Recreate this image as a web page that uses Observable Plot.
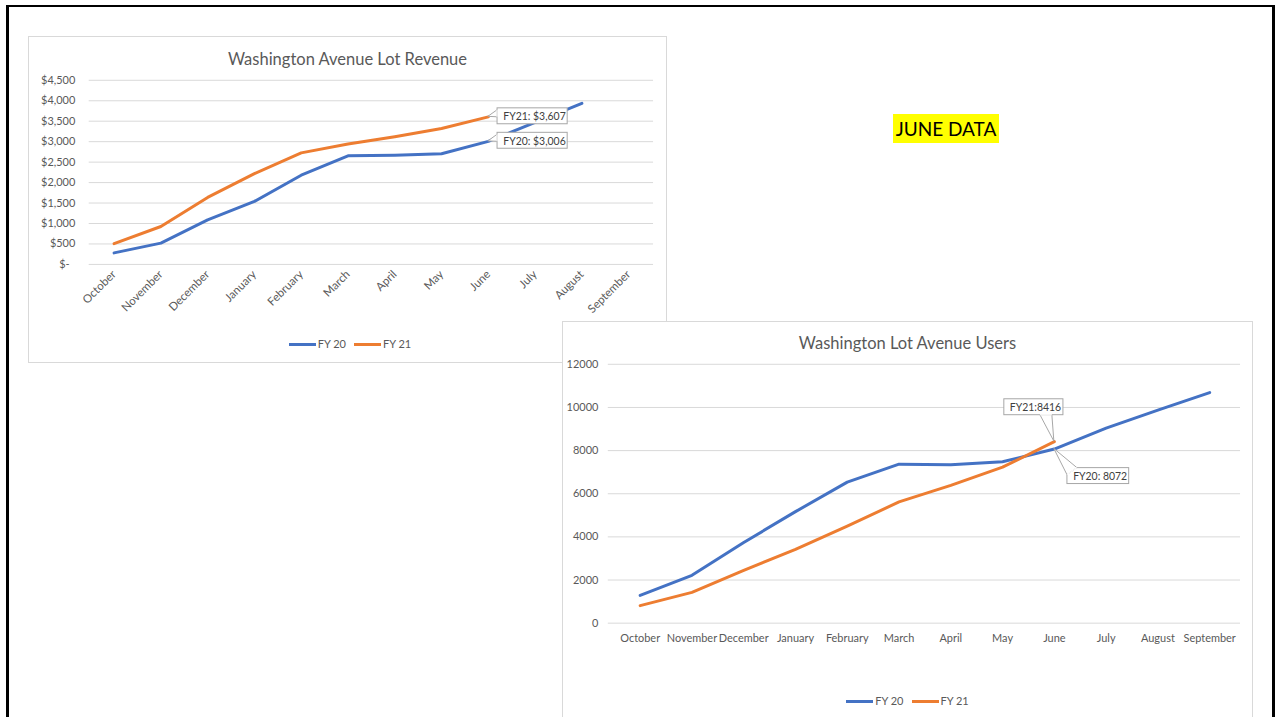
<!DOCTYPE html>
<html>
<head>
<meta charset="utf-8">
<script src="https://cdn.jsdelivr.net/npm/d3@7"></script>
<script src="https://cdn.jsdelivr.net/npm/@observablehq/plot@0.6"></script>
<style>
  html, body { margin: 0; padding: 0; }
  body { width: 1275px; height: 717px; overflow: hidden; position: relative; background: #fff;
         font-family: Lato, "Liberation Sans", sans-serif; }
  .slide { position: absolute; left: 6px; top: 5px; width: 1269px; height: 800px;
           border: 3px solid #000; border-top-width: 2px; box-sizing: border-box; }
  .box { position: absolute; background: #fff; border: 1px solid #d9d9d9; box-sizing: border-box; overflow: hidden; }
  .box svg { position: absolute; left: -1px; top: -1px; }
  .title { position: absolute; left: 0; right: 0; text-align: center; color: #595959; font-size: 16.5px; line-height: 20px; }
  .legend { position: absolute; left: 0; right: 0; display: flex; justify-content: center; gap: 8px;
            font-size: 11px; line-height: 14px; color: #595959; }
  .legend span.item { display: inline-flex; align-items: center; }
  .sw { display: inline-block; width: 27px; height: 3px; margin-right: 2px; }
  .june { position: absolute; left: 893px; top: 114px; width: 106px; height: 29px; line-height: 29px;
          background: #ffff00; color: #000; font-size: 19px; text-align: center; }
</style>
</head>
<body>
<div class="slide"></div>
<div class="june">JUNE DATA</div>
<div class="box" id="c1" style="left:28px; top:36px; width:639px; height:327px;">
  <div class="title" style="top:12px;">Washington Avenue Lot Revenue</div>
  <div class="legend" id="leg1" style="top:300px; padding-left:5px;"></div>
</div>
<div class="box" id="c2" style="left:562px; top:321px; width:691px; height:400px;">
  <div class="title" style="top:11px;">Washington Lot Avenue Users</div>
  <div class="legend" id="leg2" style="top:372px;"></div>
</div>
<script>
const months = ["October","November","December","January","February","March","April","May","June","July","August","September"];
const seriesNames = ["FY 20","FY 21"];
const seriesColors = ["#4472C4","#ED7D31"];

const revenueFY20 = [282, 520, 1090, 1540, 2180, 2655, 2670, 2705, 3006, 3470, 3935, null];
const revenueFY21 = [508, 927, 1637, 2218, 2726, 2944, 3121, 3323, 3607, null, null, null];
const revenueTicks = [0, 500, 1000, 1500, 2000, 2500, 3000, 3500, 4000, 4500];

const usersFY20 = [1290, 2220, 3740, 5170, 6540, 7370, 7340, 7480, 8072, 9040, 9880, 10690];
const usersFY21 = [814, 1430, 2450, 3420, 4500, 5620, 6390, 7230, 8416, null, null, null];
const usersTicks = [0, 2000, 4000, 6000, 8000, 10000, 12000];

const revenueCallouts = [
  {month: "June", value: revenueFY21[8], label: "FY21: $3,607"},
  {month: "June", value: revenueFY20[8], label: "FY20: $3,006"}
];
const usersCallout21 = [{month: "June", value: usersFY21[8], label: "FY21:8416"}];
const usersCallout20 = [{month: "June", value: usersFY20[8], label: "FY20: 8072"}];

const toRows = (vals) => months.map((m, i) => ({month: m, value: vals[i]})).filter(d => d.value != null);

const font = "Lato, 'Liberation Sans', sans-serif";

function addBoxes(svg, anchors) {
  const ns = "http://www.w3.org/2000/svg";
  const groups = svg.querySelectorAll('g[aria-label="text"]');
  if (!groups.length) return;
  const sr = svg.getBoundingClientRect();
  const bg = document.createElementNS(ns, "g");
  groups[0].parentNode.insertBefore(bg, groups[0]);
  const xs = svg.scale("x"), ys = svg.scale("y");
  let k = 0;
  groups.forEach(g => {
    g.querySelectorAll("text").forEach(t => {
      const a = anchors[k++];
      if (!a) return;
      const px = xs.apply(a.month), py = ys.apply(a.value);
      const r = t.getBoundingClientRect();
      const left = r.left - sr.left - 4, top = r.top - sr.top - 2;
      const w = r.width + 8, h = r.height + 4;
      const right = left + w, bottom = top + h;
      let pts;
      if (py > bottom) {
        const bx = Math.min(px, right - 3);
        pts = [[bx - 14, bottom], [bx - 2, bottom], [px, py]];
      } else if (py < top) {
        pts = [[left, top + 7], [left + 10, top], [px, py]];
      } else {
        const cy = (top + bottom) / 2;
        pts = [[left, cy - 6], [left, cy + 1], [px, py]];
      }
      const rect = document.createElementNS(ns, "rect");
      rect.setAttribute("x", left); rect.setAttribute("y", top);
      rect.setAttribute("width", w); rect.setAttribute("height", h);
      rect.setAttribute("fill", "#fff"); rect.setAttribute("stroke", "#a6a6a6");
      bg.appendChild(rect);
      const poly = document.createElementNS(ns, "polygon");
      poly.setAttribute("points", pts.map(p => p.join(",")).join(" "));
      poly.setAttribute("fill", "#fff"); poly.setAttribute("stroke", "#a6a6a6");
      bg.appendChild(poly);
      const cover = document.createElementNS(ns, "line");
      cover.setAttribute("x1", pts[0][0]); cover.setAttribute("y1", pts[0][1]);
      cover.setAttribute("x2", pts[1][0]); cover.setAttribute("y2", pts[1][1]);
      cover.setAttribute("stroke", "#fff"); cover.setAttribute("stroke-width", 1.2);
      bg.appendChild(cover);
    });
  });
}

function legend(id) {
  const el = document.getElementById(id);
  seriesNames.forEach((n, i) => {
    const s = document.createElement("span");
    s.className = "item";
    s.innerHTML = `<span class="sw" style="background:${seriesColors[i]}"></span>${n}`;
    el.appendChild(s);
  });
}

// Chart 1: revenue
const plot1 = Plot.plot({
  width: 640, height: 290,
  marginLeft: 61, marginRight: 12, marginTop: 44, marginBottom: 61,
  style: {fontFamily: font, fontSize: "11px", color: "#595959", background: "transparent", overflow: "visible"},
  x: {type: "point", domain: months, padding: 0.5, label: null},
  y: {domain: [0, 4500], label: null},
  marks: [
    Plot.gridY({ticks: revenueTicks, stroke: "#d9d9d9", strokeOpacity: 1, strokeWidth: 1}),
    Plot.axisY({ticks: revenueTicks, tickSize: 0, tickPadding: 14, label: null,
      tickFormat: d => d === 0 ? "$-\u00a0\u00a0" : "$" + d3.format(",")(d)}),
    Plot.axisX({tickSize: 0, tickPadding: 8, tickRotate: -45, label: null, fontSize: 11.5}),
    Plot.line(toRows(revenueFY20), {x: "month", y: "value", stroke: seriesColors[0], strokeWidth: 3, strokeLinejoin: "round", strokeLinecap: "round"}),
    Plot.line(toRows(revenueFY21), {x: "month", y: "value", stroke: seriesColors[1], strokeWidth: 3, strokeLinejoin: "round", strokeLinecap: "round"}),
    Plot.text(revenueCallouts, {x: "month", y: "value", text: "label", dx: 15, textAnchor: "start",
      fill: "#404040", fontSize: 10.5})
  ]
});
document.getElementById("c1").appendChild(plot1);
addBoxes(plot1, revenueCallouts);
legend("leg1");

// Chart 2: users
const plot2 = Plot.plot({
  width: 692, height: 343,
  marginLeft: 46, marginRight: 11, marginTop: 43, marginBottom: 40,
  style: {fontFamily: font, fontSize: "11px", color: "#595959", background: "transparent", overflow: "visible"},
  x: {type: "point", domain: months, padding: 0.5, label: null},
  y: {domain: [0, 12000], label: null},
  marks: [
    Plot.gridY({ticks: usersTicks, stroke: "#d9d9d9", strokeOpacity: 1, strokeWidth: 1}),
    Plot.axisY({ticks: usersTicks, tickSize: 0, tickPadding: 10, label: null, tickFormat: d3.format("d")}),
    Plot.axisX({tickSize: 0, tickPadding: 11, label: null}),
    Plot.line(toRows(usersFY20), {x: "month", y: "value", stroke: seriesColors[0], strokeWidth: 3, strokeLinejoin: "round", strokeLinecap: "round"}),
    Plot.line(toRows(usersFY21), {x: "month", y: "value", stroke: seriesColors[1], strokeWidth: 3, strokeLinejoin: "round", strokeLinecap: "round"}),
    Plot.text(usersCallout21, {x: "month", y: "value", text: "label", dx: -19, dy: -34,
      fill: "#404040", fontSize: 10.5}),
    Plot.text(usersCallout20, {x: "month", y: "value", text: "label", dx: 46, dy: 28,
      fill: "#404040", fontSize: 10.5})
  ]
});
document.getElementById("c2").appendChild(plot2);
addBoxes(plot2, usersCallout21.concat(usersCallout20));
legend("leg2");
</script>
</body>
</html>
